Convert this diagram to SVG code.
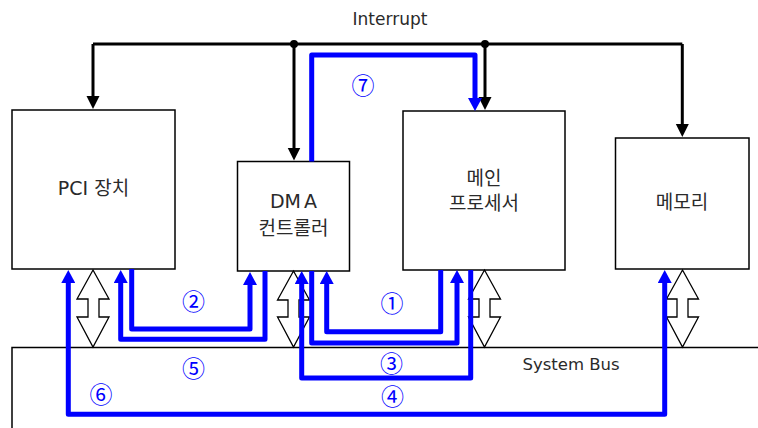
<svg xmlns="http://www.w3.org/2000/svg" width="758" height="428" viewBox="0 0 758 428">
<style>
.box{fill:#fff;stroke:#000;stroke-width:1.5}
.lbl{font-family:"DejaVu Sans","Noto Sans CJK KR",sans-serif;font-size:19px;fill:#2a2a2a;text-anchor:middle}
.plain{font-family:"DejaVu Sans","Noto Sans CJK KR",sans-serif;font-size:16.5px;fill:#2a2a2a;text-anchor:middle}
.blk{fill:none;stroke:#000;stroke-width:3}
.blu{fill:none;stroke:#0000ff;stroke-width:5;stroke-linejoin:round}
.num{font-family:"Noto Sans CJK KR",sans-serif;font-size:23px;fill:#0000ff;text-anchor:middle;dominant-baseline:central}
.dbl{fill:#fff;stroke:#000;stroke-width:1.3}
.bus{fill:none;stroke:#000;stroke-width:1.5}
</style>
<defs>
<marker id="ab" markerUnits="userSpaceOnUse" markerWidth="14" markerHeight="14" refX="1" refY="7" orient="auto-start-reverse" viewBox="0 0 14 14">
<path d="M0,0 L13,7 L0,14 z" fill="#0000ff"/>
</marker>
<marker id="ak" markerUnits="userSpaceOnUse" markerWidth="14" markerHeight="14" refX="1" refY="6.5" orient="auto" viewBox="0 0 14 13">
<path d="M0,0 L13,6.5 L0,13 z" fill="#000"/>
</marker>
</defs>
<rect width="758" height="428" fill="#fff"/>
<text class="plain" x="390" y="25" style="font-size:17px">Interrupt</text>
<g id="bus">
<path class="bus" d="M12,428 V347.5 H758"/>
<text class="plain" x="571" y="370">System Bus</text>
</g>
<g id="pci">
<rect class="box" x="12" y="110" width="163" height="159"/>
<text class="lbl" x="93.5" y="195">PCI 장치</text>
</g>
<g id="dma">
<rect class="box" x="237.5" y="161.5" width="112" height="109.5"/>
<text class="lbl" x="293.5" y="208" style="word-spacing:-3px">DM A</text>
<text class="lbl" x="293.5" y="235">컨트롤러</text>
</g>
<g id="cpu">
<rect class="box" x="403" y="111" width="162" height="159"/>
<text class="lbl" x="484" y="185">메인</text>
<text class="lbl" x="484" y="210">프로세서</text>
</g>
<g id="mem">
<rect class="box" x="615.5" y="138" width="133.5" height="131"/>
<text class="lbl" x="682" y="209">메모리</text>
</g>
<g id="connectors">
<path class="dbl" d="M93,270 L109,299 L99,299 L99,317 L109,317 L93,347 L77,317 L88,317 L88,299 L77,299 Z"/>
<path class="dbl" d="M293.5,271 L309.5,300 L299,300 L299,317 L309.5,317 L293.5,347 L277.5,317 L288,317 L288,300 L277.5,300 Z"/>
<path class="dbl" d="M484.5,270 L500.5,299 L490,299 L490,317 L500.5,317 L484.5,347 L468.5,317 L479,317 L479,299 L468.5,299 Z"/>
<path class="dbl" d="M682.5,270 L698.5,299 L688,299 L688,317 L698.5,317 L682.5,347 L666.5,317 L677,317 L677,299 L666.5,299 Z"/>
<path class="blk" d="M93,44 H682.3"/>
<path class="blk" d="M93,44 V97" marker-end="url(#ak)"/>
<path class="blk" d="M294,44 V148.5" marker-end="url(#ak)"/>
<path class="blk" d="M485,44 V98" marker-end="url(#ak)"/>
<path class="blk" d="M682.3,44 V125" marker-end="url(#ak)"/>
<circle cx="294" cy="44" r="4" fill="#000"/>
<circle cx="485" cy="44" r="4" fill="#000"/>
<path class="blu" d="M311.7,161.5 V55 H475 V99" marker-end="url(#ab)"/>
<path class="blu" d="M131.7,269 V329 H250 V284" marker-end="url(#ab)"/>
<path class="blu" d="M265,271 V339.3 H120.7 V282" marker-end="url(#ab)"/>
<path class="blu" d="M440.7,270 V331.7 H326.7 V283" marker-end="url(#ab)"/>
<path class="blu" d="M311.7,271 V343 H457 V282" marker-end="url(#ab)"/>
<path class="blu" d="M470.7,270 V378 H301.7 V283" marker-end="url(#ab)"/>
<path class="blu" d="M68.3,282 V414.3 H664.7 V282" marker-start="url(#ab)" marker-end="url(#ab)"/>
<text class="num" x="392" y="302">①</text>
<text class="num" x="193.5" y="300">②</text>
<text class="num" x="391.5" y="362">③</text>
<text class="num" x="392.5" y="395">④</text>
<text class="num" x="193.5" y="367">⑤</text>
<text class="num" x="101" y="392.5">⑥</text>
<text class="num" x="363" y="83.5">⑦</text>
</g>
</svg>
